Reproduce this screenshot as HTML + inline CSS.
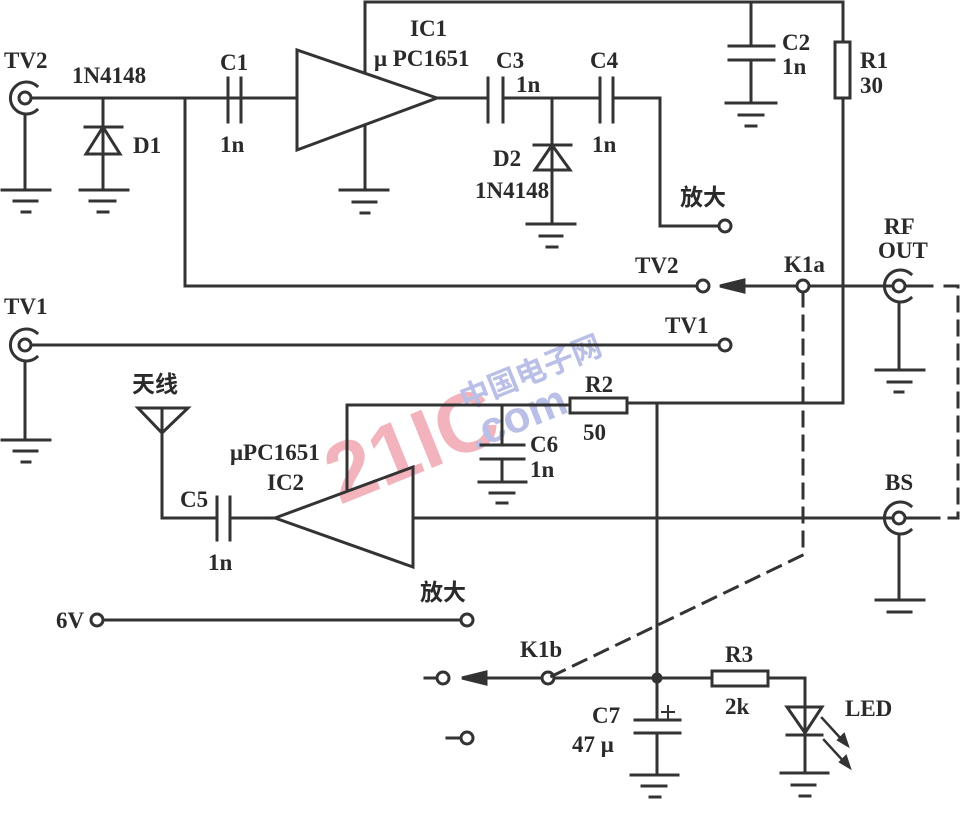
<!DOCTYPE html>
<html><head><meta charset="utf-8"><style>
html,body{margin:0;padding:0;background:#fff;}
svg{display:block;}
text{font-family:"Liberation Serif","Noto Serif CJK SC",serif;font-weight:bold;fill:#2a2a2a;}
.c{font-family:"Liberation Sans","Noto Sans CJK SC",sans-serif;}
</style></head><body>
<svg width="962" height="832" viewBox="0 0 962 832" xmlns="http://www.w3.org/2000/svg">
<g stroke="#333" stroke-width="3" fill="none" stroke-linecap="square">
<!-- watermark -->
<g stroke="none">
<text x="340" y="505" transform="rotate(-22 340 505)" font-size="84" style="fill:#f2b3bc;font-family:'Liberation Sans',sans-serif;font-weight:bold" >21IC</text>
<text x="465" y="410" transform="rotate(-22 465 410)" font-size="30" class="c" style="fill:#b9bfe6">中国电子网</text>
<text x="475" y="450" transform="rotate(-22 475 450)" font-size="44" style="fill:#b9bfe6;font-family:'Liberation Sans',sans-serif">.com</text>
</g>
<!-- TV2 connector -->
<circle cx="25" cy="98" r="6"/>
<path d="M37 86 A16 16 0 1 0 37 110"/>
<path d="M31 98 H295"/>
<path d="M25 114 V190 M2 190 H50 M14 201 H37 M22 212 H30"/>
<!-- D1 -->
<path d="M103 98 V190 M80 190 H128 M90 201 H115 M98 212 H108"/>
<path d="M85 127 H122 M103 127 L86 154 H120 Z"/>
<path d="M185 98 V286 H697"/>
<path d="M228 78 V122 M241 78 V122"/>
<path d="M297 50 V150 L437 98 Z"/>
<path d="M365 73 V2 H843 M365 125 V190 M340 190 H388 M353 202 H376 M361 213 H369"/>
<path d="M437 98 H488 M488 78 V122 M503 78 V122 M503 98 H600 M600 78 V122 M613 78 V122 M613 98 H660 V226 H719"/>
<circle cx="725" cy="226" r="6"/>
<path d="M552 98 V224 M527 224 H575 M540 236 H562 M547 247 H557"/>
<path d="M534 145 H571 M552 145 L535 170 H570 Z"/>
<path d="M751 2 V46 M729 46 H774 M729 60 H774 M751 60 V103 M726 103 H776 M739 115 H763 M746 126 H756"/>
<rect x="835" y="42" width="15" height="56"/>
<path d="M843 2 V42 M843 98 V403 H627"/>
<circle cx="703" cy="286" r="6"/>
<path d="M745 286 H797 M809 286 H893"/>
<circle cx="803" cy="286" r="6"/>
<path d="M720 286 L744 280 V292 Z" fill="#333"/>
<circle cx="899" cy="286" r="6"/>
<path d="M911 274 A16 16 0 1 0 911 298"/>
<path d="M905 286 H932 M899 302 V370 M876 370 H924 M888 382 H911 M895 392 H903"/>
<g stroke-dasharray="14 10">
<path d="M945 286 H958 V518 H932"/>
<path d="M803 292 V555 L548 678"/>
</g>
<circle cx="25" cy="345" r="6"/>
<path d="M37 333 A16 16 0 1 0 37 357"/>
<path d="M31 345 H719 M25 361 V440 M2 440 H50 M14 451 H37 M22 462 H30"/>
<circle cx="725" cy="345" r="6"/>
<path d="M138 408 H188 L162 433 Z M162 408 V518 H217 M217 497 V540 M230 497 V540 M230 518 H275"/>
<path d="M275 518 L413 467 V567 Z"/>
<path d="M347 491 V405 H570"/>
<rect x="570" y="398" width="57" height="15"/>
<path d="M502 405 V445 M481 445 H524 M481 459 H524 M502 459 V482 M479 482 H526 M490 493 H514 M497 503 H507"/>
<path d="M413 518 H893"/>
<circle cx="899" cy="518" r="6"/>
<path d="M911 506 A16 16 0 1 0 911 530"/>
<path d="M905 518 H932 M899 534 V600 M876 600 H924 M888 612 H911"/>
<path d="M657 405 V720 M635 720 H680 M635 733 H680 M657 733 V775 M631 775 H678 M642 786 H666 M650 797 H660"/>
<path d="M668 706 V718 M662 712 H674" stroke-width="2"/>
<circle cx="657" cy="678" r="4" fill="#333"/>
<circle cx="97" cy="620" r="6"/>
<path d="M103 620 H461"/>
<circle cx="467" cy="620" r="6"/>
<circle cx="443" cy="678" r="6"/>
<path d="M425 678 H437 M485 678 H542 M554 678 H712"/>
<path d="M462 678 L486 672 V684 Z" fill="#333"/>
<circle cx="548" cy="678" r="6"/>
<circle cx="467" cy="738" r="6"/>
<path d="M447 738 H461"/>
<rect x="712" y="671" width="56" height="15"/>
<path d="M768 678 H805 V773 M781 773 H828 M792 785 H815 M800 796 H810"/>
<path d="M787 707 H822 L805 733 Z M787 735 H822"/>
<path d="M822 718 L844 742 M824 740 L846 764" stroke-width="2.5"/>
<path d="M848 746 L838 740 L844 734 Z M850 768 L840 762 L846 756 Z" fill="#333" stroke-width="2"/>
</g>
<g font-size="23">
<text x="4" y="68">TV2</text>
<text x="72" y="83">1N4148</text>
<text x="133" y="153">D1</text>
<text x="220" y="70">C1</text>
<text x="220" y="152">1n</text>
<text x="410" y="36">IC1</text>
<text x="374" y="66">μ PC1651</text>
<text x="496" y="68">C3</text>
<text x="516" y="92">1n</text>
<text x="590" y="68">C4</text>
<text x="592" y="152">1n</text>
<text x="493" y="166">D2</text>
<text x="475" y="198">1N4148</text>
<text x="680" y="205" class="c" font-size="23">放大</text>
<text x="782" y="50">C2</text>
<text x="782" y="74">1n</text>
<text x="860" y="68">R1</text>
<text x="860" y="93">30</text>
<text x="635" y="273">TV2</text>
<text x="784" y="272">K1a</text>
<text x="884" y="234">RF</text>
<text x="878" y="258">OUT</text>
<text x="4" y="314">TV1</text>
<text x="665" y="333">TV1</text>
<text x="132" y="392" class="c" font-size="23">天线</text>
<text x="230" y="460">μPC1651</text>
<text x="267" y="490">IC2</text>
<text x="180" y="507">C5</text>
<text x="208" y="570">1n</text>
<text x="585" y="392">R2</text>
<text x="583" y="440">50</text>
<text x="530" y="452">C6</text>
<text x="530" y="477">1n</text>
<text x="885" y="490">BS</text>
<text x="420" y="600" class="c" font-size="23">放大</text>
<text x="56" y="628">6V</text>
<text x="520" y="657">K1b</text>
<text x="725" y="662">R3</text>
<text x="725" y="714">2k</text>
<text x="845" y="716">LED</text>
<text x="592" y="723">C7</text>
<text x="572" y="752">47 μ</text>
</g>
</svg>
</body></html>
